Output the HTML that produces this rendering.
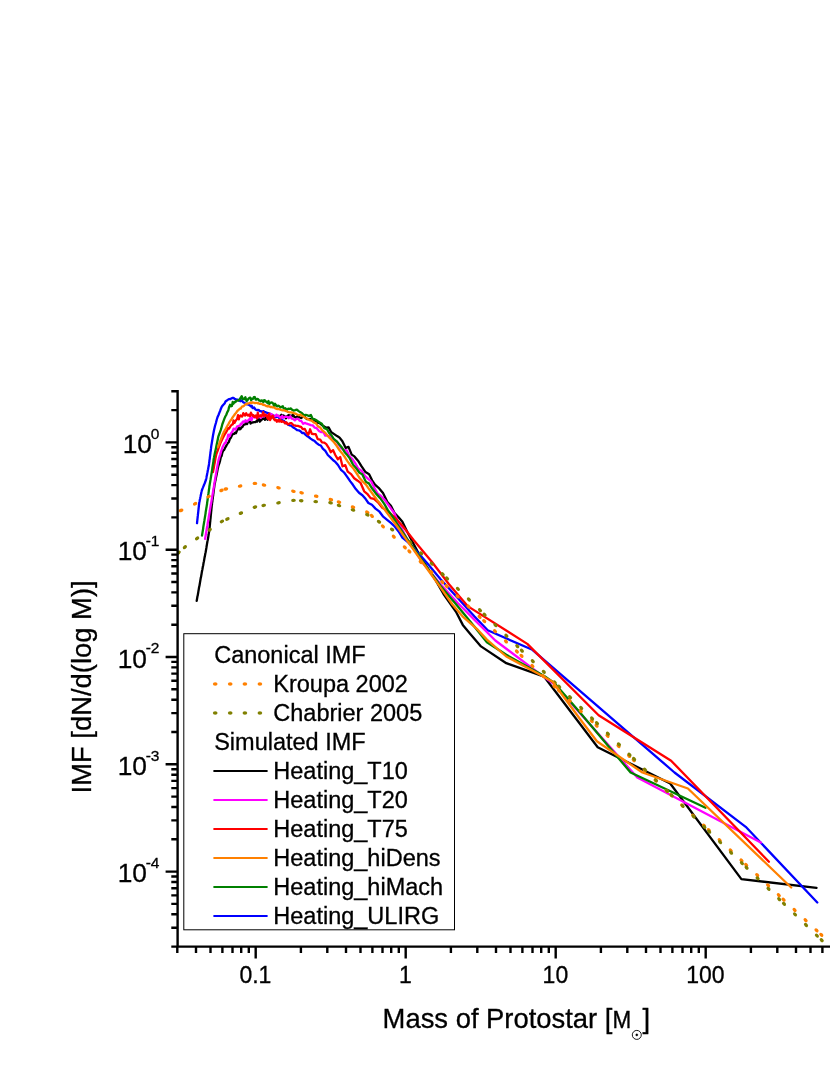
<!DOCTYPE html><html><head><meta charset="utf-8"><style>html,body{margin:0;padding:0;background:#fff}svg{display:block;will-change:transform}</style></head><body><svg width="830" height="1075" viewBox="0 0 830 1075">
<rect width="830" height="1075" fill="#fff"/>
<clipPath id="c"><rect x="177.6" y="380" width="660" height="566.6"/></clipPath>
<g clip-path="url(#c)">
<path d="M196.7 600.9 L196.8 600.3 L196.9 599.7 L197.0 599.1 L197.1 598.5 L197.2 597.9 L197.3 597.3 L197.4 596.7 L197.5 596.1 L197.7 595.6 L197.8 595.0 L197.9 594.4 L198.0 593.8 L198.1 593.2 L198.2 592.6 L198.3 592.0 L198.4 591.4 L198.5 590.8 L198.6 590.2 L198.7 589.6 L198.8 589.0 L198.9 588.4 L199.0 587.8 L199.1 587.2 L199.2 586.6 L199.4 586.1 L199.5 585.5 L199.6 584.9 L199.7 584.3 L199.8 583.7 L199.9 583.1 L200.0 582.5 L200.1 581.9 L200.2 581.3 L200.3 580.7 L200.4 580.1 L200.5 579.5 L200.6 578.9 L200.7 578.3 L200.8 577.7 L201.0 577.1 L201.1 576.6 L201.2 576.0 L201.3 575.4 L201.4 574.8 L201.5 574.2 L201.6 573.6 L201.7 573.0 L201.8 572.4 L201.9 571.8 L202.0 571.2 L202.1 570.6 L202.3 570.0 L202.4 569.4 L202.5 568.8 L202.6 568.2 L202.7 567.6 L202.8 567.0 L202.9 566.4 L203.1 565.8 L203.2 565.2 L203.3 564.6 L203.4 564.0 L203.5 563.4 L203.6 562.8 L203.7 562.2 L203.9 561.5 L204.0 560.9 L204.1 560.3 L204.2 559.7 L204.3 559.1 L204.4 558.5 L204.5 557.9 L204.6 557.3 L204.8 556.7 L204.9 556.1 L205.0 555.5 L205.1 554.9 L205.2 554.3 L205.3 553.7 L205.4 553.1 L205.6 552.5 L205.7 551.9 L205.8 551.3 L205.9 550.7 L206.0 550.1 L206.1 549.5 L206.2 548.9 L206.3 548.3 L206.4 547.7 L206.5 547.0 L206.6 546.4 L206.7 545.8 L206.8 545.2 L206.9 544.6 L207.0 544.0 L207.1 543.4 L207.2 542.8 L207.3 542.2 L207.4 541.6 L207.5 541.0 L207.7 540.3 L207.8 539.7 L207.9 539.1 L208.0 538.5 L208.1 537.9 L208.2 537.3 L208.3 536.7 L208.4 536.1 L208.5 535.5 L208.6 534.9 L208.7 534.3 L208.8 533.6 L208.9 533.0 L209.0 532.4 L209.1 531.8 L209.2 531.2 L209.3 530.6 L209.3 530.0 L209.4 529.4 L209.5 528.8 L209.5 528.2 L209.6 527.6 L209.7 527.0 L209.7 526.4 L209.8 525.8 L209.8 525.2 L209.9 524.6 L210.0 524.0 L210.0 523.4 L210.1 522.8 L210.1 522.2 L210.2 521.6 L210.3 521.0 L210.3 520.4 L210.4 519.8 L210.4 519.2 L210.5 518.6 L210.6 518.0 L210.6 517.4 L210.7 516.8 L210.7 516.2 L210.8 515.6 L210.8 515.0 L210.9 514.4 L211.0 513.8 L211.0 513.2 L211.1 512.6 L211.1 512.0 L211.2 511.4 L211.3 510.8 L211.3 510.2 L211.4 509.6 L211.4 509.0 L211.5 508.4 L211.6 507.8 L211.6 507.2 L211.7 506.6 L211.7 506.0 L211.8 505.4 L211.9 504.8 L212.0 504.2 L212.0 503.6 L212.1 503.0 L212.2 502.4 L212.3 501.8 L212.4 501.2 L212.4 500.6 L212.5 500.0 L212.6 499.4 L212.7 498.8 L212.8 498.2 L212.8 497.6 L212.9 497.0 L213.0 496.4 L213.1 495.8 L213.2 495.2 L213.2 494.6 L213.3 494.0 L213.4 493.4 L213.5 492.8 L213.5 492.2 L213.6 491.6 L213.7 491.0 L213.8 490.4 L213.9 489.8 L213.9 489.2 L214.0 488.6 L214.1 488.0 L214.2 487.4 L214.3 486.8 L214.3 486.2 L214.4 485.6 L214.5 485.0 L214.6 484.4 L214.7 483.8 L214.9 483.2 L215.0 482.6 L215.1 482.0 L215.2 481.4 L215.3 480.8 L215.5 480.2 L215.6 479.6 L215.7 479.0 L215.8 478.4 L215.9 477.8 L216.0 477.5 L217.0 472.8 L217.7 468.9 L218.4 466.0 L219.3 463.3 L220.1 460.6 L220.8 457.3 L221.6 455.9 L222.4 452.5 L223.3 450.4 L224.2 449.9 L225.2 447.6 L226.1 446.2 L226.9 444.6 L227.9 443.0 L228.8 442.1 L229.7 439.3 L230.4 438.4 L231.2 436.9 L232.1 435.1 L233.0 434.0 L234.0 433.9 L235.0 432.7 L235.9 433.2 L236.9 430.8 L238.0 429.0 L238.8 427.7 L239.5 429.3 L240.4 429.2 L241.4 427.4 L242.3 427.1 L243.3 425.3 L244.3 424.4 L245.3 424.3 L246.3 422.7 L247.1 424.1 L248.0 421.4 L249.1 420.4 L249.9 421.6 L250.6 423.6 L251.5 422.5 L252.2 422.5 L253.2 422.3 L254.1 422.1 L255.1 422.2 L256.1 421.5 L257.1 421.6 L257.9 418.6 L258.8 418.9 L259.8 421.7 L260.6 420.2 L261.4 420.3 L262.3 418.7 L263.0 418.8 L263.9 418.1 L265.0 419.8 L265.9 417.1 L266.9 418.2 L267.6 419.7 L268.7 416.8 L269.7 416.9 L270.4 418.2 L271.4 417.7 L272.2 417.3 L273.1 416.8 L273.8 417.1 L274.7 417.4 L275.5 417.1 L276.7 415.9 L277.7 415.9 L278.7 415.8 L280.0 416.5 L281.4 414.8 L282.4 416.2 L283.4 415.4 L284.9 416.4 L286.0 418.3 L287.3 415.9 L288.5 415.2 L289.9 415.3 L291.6 416.6 L292.9 414.4 L294.3 416.8 L295.9 417.7 L297.6 416.0 L299.4 417.3 L301.4 418.1 L303.4 415.5 L305.3 417.6 L307.0 419.1 L308.6 419.1 L310.3 419.0 L312.4 420.7 L314.7 420.1 L317.2 422.8 L319.1 422.6 L321.1 424.3 L323.4 426.1 L326.1 427.7 L328.6 427.4 L331.3 432.2 L334.2 434.1 L337.1 436.1 L339.4 437.4 L342.4 441.2 L345.7 447.9 L348.5 446.9 L351.7 454.6 L354.4 456.4 L358.0 460.7 L361.6 466.4 L365.5 472.1 L369.1 474.2 L372.1 480.3 L375.0 484.7 L378.6 487.8 L383.0 493.1 L387.4 502.0 L390.9 505.8 L394.5 513.0 L398.8 517.6 L402.4 521.8 L407.2 531.8 L420.0 556.0 L436.0 581.0 L443.5 594.0 L456.0 611.8 L462.8 624.9 L470.5 634.2 L481.0 646.4 L506.3 663.2 L544.2 676.7 L597.7 747.2 L670.2 783.5 L741.4 879.1 L816.5 887.8" fill="none" stroke="#000" stroke-width="2.3" stroke-linejoin="round" stroke-linecap="round"/>
<path d="M197.0 523.2 L197.1 522.6 L197.1 522.0 L197.2 521.4 L197.3 520.8 L197.3 520.1 L197.4 519.5 L197.5 518.9 L197.5 518.3 L197.6 517.7 L197.7 517.1 L197.7 516.5 L197.8 515.9 L197.9 515.2 L197.9 514.6 L198.0 514.0 L198.1 513.4 L198.1 512.8 L198.2 512.2 L198.3 511.6 L198.3 511.0 L198.4 510.3 L198.5 509.7 L198.5 509.1 L198.6 508.5 L198.7 507.9 L198.7 507.3 L198.8 506.7 L198.9 506.1 L198.9 505.4 L199.0 504.8 L199.1 504.2 L199.2 503.6 L199.2 503.0 L199.3 502.4 L199.5 501.8 L199.6 501.2 L199.7 500.6 L199.8 500.0 L199.9 499.4 L200.1 498.8 L200.2 498.2 L200.3 497.6 L200.4 497.0 L200.6 496.3 L200.7 495.7 L200.8 495.1 L200.9 494.5 L201.1 493.9 L201.2 493.3 L201.3 492.7 L201.4 492.1 L201.6 491.5 L201.7 490.9 L201.9 490.3 L202.1 489.8 L202.3 489.2 L202.5 488.6 L202.7 488.1 L202.9 487.5 L203.2 487.0 L203.4 486.4 L203.6 485.9 L203.9 485.3 L204.1 484.7 L204.3 484.2 L204.5 483.6 L204.8 483.1 L205.0 482.5 L205.2 482.0 L205.4 481.4 L205.6 480.8 L205.8 480.3 L206.0 479.7 L206.1 479.1 L206.3 478.5 L206.4 477.9 L206.5 477.2 L206.6 476.6 L206.7 476.0 L206.9 475.4 L207.0 474.8 L207.1 474.2 L207.2 473.6 L207.3 473.0 L207.5 472.3 L207.6 471.7 L207.7 471.1 L207.8 470.5 L207.9 469.9 L208.1 469.3 L208.2 468.7 L208.3 468.1 L208.4 467.4 L208.5 466.8 L208.7 466.2 L208.8 465.6 L208.9 465.0 L209.0 464.4 L209.0 463.8 L209.1 463.2 L209.2 462.5 L209.3 461.9 L209.4 461.3 L209.4 460.7 L209.5 460.1 L209.6 459.5 L209.7 458.9 L209.8 458.3 L209.8 457.6 L209.9 457.0 L210.0 456.4 L210.1 455.8 L210.1 455.2 L210.2 454.6 L210.3 454.0 L210.4 453.4 L210.4 452.7 L210.5 452.1 L210.6 451.5 L210.7 450.9 L210.8 450.3 L210.8 449.7 L210.9 449.1 L211.0 448.5 L211.1 447.8 L211.1 447.2 L211.2 446.6 L211.3 446.0 L211.4 445.4 L211.5 444.8 L211.6 444.2 L211.7 443.6 L211.8 443.0 L211.9 442.4 L212.0 441.8 L213.0 435.5 L214.0 430.2 L215.0 426.0 L215.9 423.0 L216.8 419.5 L217.7 416.7 L218.5 415.0 L219.3 412.9 L220.2 410.7 L221.0 408.5 L221.9 406.5 L222.7 405.5 L223.6 404.5 L224.6 403.4 L225.5 401.5 L226.5 400.8 L227.4 400.1 L228.3 399.6 L229.3 399.0 L230.2 399.2 L231.2 398.6 L232.3 398.0 L233.1 397.9 L234.1 398.4 L234.9 399.1 L235.7 399.2 L236.5 399.6 L237.5 399.6 L238.5 400.1 L239.5 400.6 L240.2 401.2 L241.0 400.2 L242.1 401.0 L243.2 402.2 L244.2 402.7 L245.1 403.3 L245.9 403.5 L246.9 404.3 L247.7 403.9 L248.4 404.6 L249.2 404.9 L250.0 405.4 L251.0 406.6 L251.8 405.8 L252.6 408.0 L253.4 408.0 L254.2 407.5 L255.2 409.2 L256.0 409.7 L256.9 410.2 L257.9 409.9 L258.9 410.1 L259.8 411.2 L260.7 411.1 L261.7 411.7 L262.5 411.6 L263.5 411.1 L264.4 411.9 L265.5 412.1 L266.4 412.7 L267.2 412.9 L267.9 413.2 L268.7 413.2 L269.7 414.2 L270.5 413.9 L271.4 414.5 L272.1 414.8 L273.2 415.4 L274.2 415.9 L275.4 416.7 L276.3 416.8 L277.3 416.6 L278.6 417.3 L279.8 418.8 L281.1 418.8 L282.4 420.9 L283.7 420.6 L284.8 421.9 L285.9 423.1 L287.0 423.4 L288.2 424.7 L289.8 425.3 L291.3 425.7 L292.6 427.0 L294.1 427.9 L295.5 428.9 L297.3 430.2 L298.8 430.3 L300.8 431.5 L302.1 433.0 L303.8 432.9 L305.3 434.6 L307.2 436.2 L308.7 437.0 L310.6 438.6 L312.4 439.9 L314.2 440.7 L316.4 442.8 L318.7 444.7 L320.8 445.5 L322.8 448.7 L325.3 450.9 L327.8 455.0 L330.6 457.6 L333.2 460.3 L335.4 461.9 L338.0 465.0 L341.0 469.8 L344.1 472.5 L347.2 476.8 L350.3 481.4 L352.9 484.8 L355.8 489.1 L359.0 492.7 L362.4 495.2 L365.7 499.1 L368.4 503.0 L371.9 504.8 L375.5 508.6 L379.5 511.7 L382.9 516.3 L387.1 519.8 L390.6 522.6 L394.7 526.5 L398.6 531.5 L402.4 537.6 L408.2 542.4 L417.8 552.5 L427.5 563.6 L440.6 579.2 L457.5 597.7 L474.3 616.3 L487.7 630.3 L532.4 649.8 L674.5 772.5 L745.7 826.8 L817.3 902.5" fill="none" stroke="#00f" stroke-width="2.3" stroke-linejoin="round" stroke-linecap="round"/>
<path d="M205.1 538.9 L205.2 538.3 L205.3 537.7 L205.4 537.1 L205.5 536.5 L205.6 535.9 L205.7 535.3 L205.8 534.7 L205.9 534.1 L206.0 533.5 L206.1 532.9 L206.2 532.3 L206.3 531.7 L206.4 531.1 L206.5 530.5 L206.6 529.9 L206.7 529.3 L206.8 528.7 L206.9 528.1 L207.0 527.5 L207.1 526.9 L207.2 526.3 L207.3 525.8 L207.4 525.2 L207.5 524.6 L207.6 524.0 L207.7 523.4 L207.8 522.8 L207.9 522.2 L208.0 521.6 L208.1 521.0 L208.2 520.4 L208.3 519.8 L208.4 519.2 L208.5 518.6 L208.6 518.0 L208.7 517.4 L208.8 516.8 L208.9 516.2 L209.0 515.6 L209.1 515.0 L209.2 514.4 L209.3 513.8 L209.4 513.2 L209.5 512.6 L209.6 512.0 L209.7 511.4 L209.8 510.8 L209.9 510.1 L210.0 509.5 L210.1 508.9 L210.2 508.3 L210.3 507.7 L210.4 507.1 L210.5 506.5 L210.6 505.9 L210.7 505.3 L210.8 504.7 L210.9 504.1 L211.1 503.4 L211.2 502.8 L211.3 502.2 L211.4 501.6 L211.5 501.0 L211.6 500.4 L211.7 499.8 L211.8 499.2 L211.9 498.6 L212.0 498.0 L212.1 497.4 L212.2 496.7 L212.3 496.1 L212.4 495.5 L212.5 494.9 L212.6 494.3 L212.7 493.7 L212.8 493.1 L212.9 492.5 L213.0 491.9 L213.1 491.3 L213.2 490.7 L213.3 490.1 L213.4 489.5 L213.5 488.9 L213.6 488.3 L213.7 487.7 L213.8 487.1 L213.9 486.5 L214.0 485.8 L214.1 485.2 L214.2 484.6 L214.3 484.0 L214.4 483.4 L214.5 482.8 L214.6 482.2 L214.7 481.6 L214.8 481.0 L214.9 480.4 L215.0 479.8 L215.1 479.2 L215.2 478.6 L215.3 478.0 L215.4 477.4 L215.5 476.8 L215.6 476.2 L215.7 475.6 L215.8 475.0 L215.9 474.4 L216.0 474.1 L216.9 468.8 L217.7 464.4 L218.5 460.1 L219.5 456.6 L220.2 454.6 L221.1 451.4 L222.1 448.5 L223.0 446.3 L223.9 444.5 L224.9 442.7 L225.7 442.9 L226.5 439.7 L227.3 439.3 L228.2 434.7 L229.0 436.0 L229.8 436.2 L230.8 433.4 L231.8 432.3 L232.6 431.2 L233.6 428.7 L234.6 428.9 L235.5 429.7 L236.2 428.2 L237.1 426.4 L237.9 426.3 L238.8 425.8 L239.8 425.9 L240.8 423.6 L241.6 424.4 L242.6 421.8 L243.5 421.4 L244.5 422.1 L245.5 420.3 L246.3 421.3 L247.0 421.6 L247.8 420.9 L248.9 419.5 L249.8 419.9 L250.6 417.3 L251.6 420.2 L252.6 416.9 L253.7 416.5 L254.6 417.6 L255.6 417.2 L256.5 417.3 L257.3 415.8 L258.1 417.4 L258.9 416.6 L259.8 416.2 L260.9 417.9 L261.7 415.8 L262.6 415.5 L263.5 416.3 L264.2 416.4 L265.3 415.2 L266.3 415.7 L267.4 415.1 L268.2 415.7 L269.0 415.3 L269.8 415.8 L270.6 413.7 L271.6 414.7 L272.5 414.7 L273.4 416.3 L274.3 416.5 L275.5 416.2 L276.4 414.6 L277.7 416.0 L278.6 416.0 L279.7 416.9 L280.8 418.0 L282.2 415.9 L283.2 417.9 L284.6 416.9 L285.9 416.7 L287.2 416.9 L288.7 418.2 L290.4 416.2 L291.7 418.6 L293.2 419.0 L294.8 420.4 L296.4 418.9 L298.2 418.8 L299.5 420.6 L301.4 421.2 L303.2 423.8 L304.8 422.9 L306.7 423.7 L308.7 424.3 L310.7 425.1 L312.7 425.4 L314.8 427.7 L316.5 428.0 L319.0 430.9 L321.3 432.2 L323.3 432.0 L325.3 435.7 L327.5 435.6 L329.4 436.1 L331.8 439.4 L334.1 440.1 L336.4 441.2 L338.5 444.4 L341.4 448.2 L343.8 449.9 L346.7 450.4 L349.2 455.8 L352.6 459.3 L355.3 463.3 L358.2 468.5 L362.0 471.3 L364.9 475.8 L368.2 478.9 L371.2 481.5 L374.6 488.2 L377.7 493.8 L380.7 495.8 L385.1 500.4 L389.6 506.7 L394.4 513.3 L398.2 522.1 L401.0 527.0 L406.9 538.7 L423.7 564.0 L440.6 584.2 L457.5 602.8 L474.3 619.6 L484.5 629.7 L495.3 640.5 L542.5 675.9 L554.3 684.3 L637.3 777.6 L760.8 842.6" fill="none" stroke="#f0f" stroke-width="2.3" stroke-linejoin="round" stroke-linecap="round"/>
<path d="M213.0 472.0 L213.1 471.4 L213.2 470.8 L213.3 470.2 L213.4 469.6 L213.6 469.0 L213.7 468.4 L213.8 467.8 L213.9 467.1 L214.0 466.5 L214.1 465.9 L214.2 465.3 L214.3 464.7 L214.4 464.1 L214.6 463.5 L214.7 462.9 L214.8 462.3 L214.9 461.7 L215.0 461.1 L215.1 460.5 L215.2 459.9 L215.3 459.3 L215.4 458.6 L215.5 458.0 L215.7 457.4 L215.8 456.8 L215.9 456.2 L216.0 455.6 L216.2 455.0 L216.3 454.4 L216.5 453.8 L216.7 453.3 L216.9 452.7 L217.1 452.1 L217.4 451.5 L217.6 450.9 L217.8 450.4 L218.0 449.8 L218.2 449.2 L218.4 448.6 L218.6 448.0 L218.8 447.4 L219.0 446.9 L219.2 446.3 L219.5 445.7 L219.7 445.1 L219.9 444.5 L220.1 444.0 L220.3 443.4 L220.5 442.8 L220.8 442.3 L221.0 441.7 L221.3 441.2 L221.6 440.7 L221.8 440.1 L222.0 439.8 L222.7 438.3 L223.6 436.5 L224.4 435.0 L225.2 433.5 L226.1 432.3 L227.2 430.2 L228.0 428.2 L229.0 428.6 L229.8 427.3 L230.7 425.8 L231.8 424.7 L232.8 424.4 L233.5 420.5 L234.5 422.9 L235.3 421.3 L236.3 419.9 L237.1 418.9 L238.0 415.2 L238.8 419.4 L239.6 416.3 L240.6 415.5 L241.3 416.4 L242.3 416.5 L243.3 413.2 L244.1 414.2 L245.1 415.5 L246.2 413.3 L247.1 415.1 L248.0 415.6 L249.0 414.6 L250.0 416.1 L250.9 412.7 L251.7 414.1 L252.7 415.7 L253.5 415.3 L254.3 416.9 L255.0 416.6 L255.9 415.4 L257.0 418.4 L257.8 412.6 L258.5 416.7 L259.5 416.1 L260.4 415.2 L261.3 416.3 L262.3 414.8 L263.2 412.2 L264.0 415.8 L264.9 414.5 L265.8 415.7 L266.6 415.1 L267.4 418.0 L268.3 419.1 L269.2 413.6 L270.1 420.0 L270.9 418.4 L272.0 416.2 L272.8 415.8 L273.9 419.2 L275.1 420.4 L275.9 419.8 L276.9 421.7 L278.1 420.0 L279.2 421.6 L280.2 419.7 L281.5 421.9 L282.7 421.3 L284.0 422.1 L285.1 423.4 L286.3 422.2 L287.7 424.3 L288.9 423.9 L290.4 423.1 L291.6 423.2 L293.3 425.1 L294.8 425.5 L296.3 425.8 L297.9 425.9 L299.3 426.5 L301.1 426.8 L302.7 429.1 L304.8 428.9 L306.5 432.3 L308.3 434.9 L310.1 429.3 L311.8 433.8 L313.4 434.0 L315.7 434.1 L317.7 439.2 L320.2 439.6 L322.0 442.4 L324.3 442.6 L326.3 444.1 L328.7 447.8 L330.8 452.2 L333.1 450.1 L335.3 455.0 L337.9 459.3 L340.2 457.0 L342.5 466.3 L345.3 465.1 L347.7 471.6 L351.1 474.1 L354.2 478.2 L357.7 480.7 L360.5 482.8 L364.2 491.3 L367.2 493.8 L370.6 498.1 L374.0 498.8 L378.0 502.3 L382.3 507.7 L386.5 510.3 L389.7 512.9 L393.9 516.5 L398.1 521.0 L402.2 525.5 L403.4 527.0 L414.0 540.5 L432.2 562.3 L449.0 584.2 L467.6 606.1 L527.3 643.9 L598.6 715.2 L671.1 760.7 L768.9 861.7" fill="none" stroke="#f00" stroke-width="2.3" stroke-linejoin="round" stroke-linecap="round"/>
<path d="M202.0 535.5 L202.1 534.9 L202.2 534.3 L202.3 533.7 L202.4 533.1 L202.5 532.5 L202.6 531.9 L202.7 531.3 L202.8 530.7 L202.9 530.1 L203.0 529.5 L203.1 528.9 L203.2 528.3 L203.2 527.7 L203.3 527.1 L203.4 526.5 L203.5 525.9 L203.6 525.3 L203.7 524.7 L203.8 524.1 L203.9 523.5 L204.0 522.9 L204.1 522.3 L204.2 521.7 L204.3 521.1 L204.4 520.5 L204.5 519.8 L204.6 519.2 L204.7 518.6 L204.8 518.0 L204.9 517.4 L205.0 516.8 L205.1 516.2 L205.2 515.6 L205.3 515.0 L205.4 514.4 L205.5 513.8 L205.6 513.2 L205.6 512.6 L205.7 512.0 L205.8 511.4 L205.9 510.8 L206.0 510.2 L206.1 509.6 L206.2 509.0 L206.3 508.4 L206.4 507.8 L206.5 507.2 L206.6 506.6 L206.7 506.0 L206.8 505.4 L206.9 504.8 L207.0 504.2 L207.1 503.6 L207.1 503.0 L207.2 502.3 L207.3 501.7 L207.4 501.1 L207.5 500.5 L207.6 499.9 L207.6 499.3 L207.7 498.7 L207.8 498.1 L207.9 497.4 L208.0 496.8 L208.1 496.2 L208.2 495.6 L208.2 495.0 L208.3 494.4 L208.4 493.8 L208.5 493.2 L208.6 492.5 L208.7 491.9 L208.8 491.3 L208.8 490.7 L208.9 490.1 L209.0 489.5 L209.1 488.9 L209.2 488.3 L209.3 487.6 L209.3 487.0 L209.4 486.4 L209.5 485.8 L209.6 485.2 L209.7 484.6 L209.8 484.0 L209.9 483.4 L210.0 482.8 L210.1 482.2 L210.2 481.6 L210.3 481.0 L210.4 480.4 L210.5 479.8 L210.6 479.2 L210.7 478.5 L210.8 477.9 L210.9 477.3 L211.0 476.7 L211.1 476.1 L211.2 475.5 L211.3 474.9 L211.4 474.3 L211.5 473.7 L211.6 473.1 L211.7 472.5 L211.8 471.9 L211.9 471.3 L212.0 470.7 L212.1 470.1 L212.2 469.5 L212.3 468.9 L212.3 468.2 L212.4 467.6 L212.5 467.0 L212.6 466.4 L212.7 465.8 L212.8 465.2 L212.9 464.6 L213.0 464.0 L213.1 463.4 L213.2 462.8 L213.3 462.2 L213.4 461.6 L213.5 461.0 L213.5 460.3 L213.6 459.7 L213.7 459.1 L213.8 458.5 L213.9 457.9 L214.0 457.5 L214.9 453.1 L215.8 449.0 L216.7 444.5 L217.5 440.7 L218.3 436.7 L219.1 434.5 L219.9 432.3 L220.8 429.9 L221.7 426.7 L222.4 424.0 L223.4 421.3 L224.4 418.6 L225.3 416.5 L226.2 415.0 L227.2 412.3 L228.3 410.4 L229.0 407.2 L230.1 404.7 L231.2 406.3 L231.9 406.0 L232.7 402.0 L233.5 403.7 L234.6 402.0 L235.4 402.2 L236.3 400.6 L237.4 400.6 L238.3 400.6 L239.1 399.9 L239.9 399.0 L240.9 397.5 L241.7 396.2 L242.7 399.2 L243.7 399.0 L244.5 399.1 L245.4 397.2 L246.5 401.0 L247.4 400.5 L248.3 398.8 L249.4 397.9 L250.3 397.6 L251.2 400.3 L251.9 399.0 L253.0 398.8 L253.8 397.2 L254.7 397.0 L255.7 399.5 L256.4 399.6 L257.2 398.9 L258.1 399.1 L259.1 400.5 L260.1 400.7 L260.8 401.2 L261.6 400.4 L262.4 400.8 L263.3 402.2 L264.1 400.2 L264.9 400.4 L266.0 401.6 L266.7 402.3 L267.7 403.3 L268.5 401.0 L269.3 404.0 L270.3 402.9 L271.1 402.4 L272.2 402.6 L273.3 403.8 L274.1 406.3 L275.1 403.8 L275.9 405.1 L277.1 406.4 L278.4 405.6 L279.3 406.2 L280.5 407.5 L281.7 406.8 L282.8 406.3 L284.0 409.2 L285.4 408.3 L286.8 410.0 L288.3 408.7 L289.6 409.0 L290.9 408.4 L292.1 409.8 L293.5 410.5 L295.2 410.2 L296.9 409.6 L298.3 410.9 L300.1 412.1 L301.8 413.0 L303.9 415.3 L305.5 414.8 L307.1 415.2 L308.8 416.0 L310.9 415.0 L312.7 419.0 L314.5 419.2 L316.9 420.6 L319.2 422.2 L321.8 423.8 L324.3 428.1 L326.9 429.1 L329.4 433.3 L331.6 435.5 L333.7 438.8 L336.7 441.3 L338.9 443.9 L342.1 447.7 L344.4 451.7 L346.7 454.4 L349.8 458.4 L353.1 464.8 L356.0 468.0 L359.5 472.8 L362.2 474.2 L366.0 482.0 L368.9 483.4 L372.0 488.3 L376.0 493.6 L380.2 498.2 L384.1 503.6 L387.7 509.8 L392.1 516.2 L395.7 521.5 L399.1 526.9 L401.3 530.0 L406.9 538.7 L423.7 563.0 L440.6 585.9 L457.5 606.1 L474.3 626.4 L486.9 642.2 L506.3 654.8 L544.2 675.9 L554.3 683.0 L580.0 712.6 L630.6 772.5 L705.5 807.8" fill="none" stroke="#008000" stroke-width="2.3" stroke-linejoin="round" stroke-linecap="round"/>
<g fill="#ff8000"><ellipse cx="181.1" cy="510.4" rx="2.35" ry="1.7" transform="rotate(-26 181.1 510.4)"/><ellipse cx="195.1" cy="503.7" rx="2.35" ry="1.7" transform="rotate(-27 195.1 503.7)"/><ellipse cx="208.6" cy="496.6" rx="2.35" ry="1.7" transform="rotate(-27 208.6 496.6)"/><ellipse cx="221.5" cy="490.4" rx="2.35" ry="1.7" transform="rotate(-24 221.5 490.4)"/><ellipse cx="225.8" cy="489.0" rx="2.35" ry="1.7" transform="rotate(-13 225.8 489.0)"/><ellipse cx="240.1" cy="486.1" rx="2.35" ry="1.7" transform="rotate(-11 240.1 486.1)"/><ellipse cx="254.9" cy="483.4" rx="2.35" ry="1.7" transform="rotate(-2 254.9 483.4)"/><ellipse cx="264.0" cy="485.1" rx="2.35" ry="1.7" transform="rotate(11 264.0 485.1)"/><ellipse cx="278.5" cy="487.8" rx="2.35" ry="1.7" transform="rotate(12 278.5 487.8)"/><ellipse cx="293.4" cy="491.3" rx="2.35" ry="1.7" transform="rotate(12 293.4 491.3)"/><ellipse cx="301.6" cy="492.8" rx="2.35" ry="1.7" transform="rotate(12 301.6 492.8)"/><ellipse cx="316.2" cy="496.2" rx="2.35" ry="1.7" transform="rotate(13 316.2 496.2)"/><ellipse cx="330.9" cy="499.6" rx="2.35" ry="1.7" transform="rotate(15 330.9 499.6)"/><ellipse cx="339.0" cy="502.1" rx="2.35" ry="1.7" transform="rotate(19 339.0 502.1)"/><ellipse cx="353.0" cy="507.2" rx="2.35" ry="1.7" transform="rotate(20 353.0 507.2)"/><ellipse cx="367.3" cy="512.2" rx="2.35" ry="1.7" transform="rotate(25 367.3 512.2)"/><ellipse cx="371.9" cy="515.9" rx="2.35" ry="1.7" transform="rotate(42 371.9 515.9)"/><ellipse cx="382.9" cy="526.4" rx="2.35" ry="1.7" transform="rotate(44 382.9 526.4)"/><ellipse cx="393.8" cy="536.7" rx="2.35" ry="1.7" transform="rotate(44 393.8 536.7)"/><ellipse cx="404.8" cy="547.3" rx="2.35" ry="1.7" transform="rotate(43 404.8 547.3)"/><ellipse cx="409.4" cy="551.4" rx="2.35" ry="1.7" transform="rotate(43 409.4 551.4)"/><ellipse cx="420.7" cy="562.0" rx="2.35" ry="1.7" transform="rotate(43 420.7 562.0)"/><ellipse cx="431.3" cy="571.9" rx="2.35" ry="1.7" transform="rotate(43 431.3 571.9)"/><ellipse cx="442.3" cy="582.1" rx="2.35" ry="1.7" transform="rotate(43 442.3 582.1)"/><ellipse cx="446.7" cy="586.2" rx="2.35" ry="1.7" transform="rotate(43 446.7 586.2)"/><ellipse cx="457.5" cy="596.3" rx="2.35" ry="1.7" transform="rotate(43 457.5 596.3)"/><ellipse cx="468.5" cy="606.5" rx="2.35" ry="1.7" transform="rotate(43 468.5 606.5)"/><ellipse cx="479.6" cy="616.8" rx="2.35" ry="1.7" transform="rotate(43 479.6 616.8)"/><ellipse cx="484.2" cy="621.1" rx="2.35" ry="1.7" transform="rotate(43 484.2 621.1)"/><ellipse cx="495.0" cy="631.2" rx="2.35" ry="1.7" transform="rotate(43 495.0 631.2)"/><ellipse cx="506.0" cy="641.4" rx="2.35" ry="1.7" transform="rotate(43 506.0 641.4)"/><ellipse cx="516.9" cy="651.5" rx="2.35" ry="1.7" transform="rotate(43 516.9 651.5)"/><ellipse cx="521.5" cy="655.8" rx="2.35" ry="1.7" transform="rotate(43 521.5 655.8)"/><ellipse cx="532.4" cy="666.0" rx="2.35" ry="1.7" transform="rotate(43 532.4 666.0)"/><ellipse cx="543.4" cy="676.2" rx="2.35" ry="1.7" transform="rotate(43 543.4 676.2)"/><ellipse cx="554.4" cy="686.4" rx="2.35" ry="1.7" transform="rotate(43 554.4 686.4)"/><ellipse cx="558.8" cy="690.5" rx="2.35" ry="1.7" transform="rotate(43 558.8 690.5)"/><ellipse cx="569.7" cy="700.7" rx="2.35" ry="1.7" transform="rotate(43 569.7 700.7)"/><ellipse cx="580.8" cy="711.0" rx="2.35" ry="1.7" transform="rotate(43 580.8 711.0)"/><ellipse cx="591.7" cy="721.1" rx="2.35" ry="1.7" transform="rotate(43 591.7 721.1)"/><ellipse cx="596.6" cy="725.7" rx="2.35" ry="1.7" transform="rotate(43 596.6 725.7)"/><ellipse cx="607.5" cy="735.8" rx="2.35" ry="1.7" transform="rotate(43 607.5 735.8)"/><ellipse cx="618.5" cy="746.1" rx="2.35" ry="1.7" transform="rotate(43 618.5 746.1)"/><ellipse cx="629.1" cy="755.9" rx="2.35" ry="1.7" transform="rotate(43 629.1 755.9)"/><ellipse cx="633.7" cy="760.2" rx="2.35" ry="1.7" transform="rotate(43 633.7 760.2)"/><ellipse cx="644.6" cy="770.4" rx="2.35" ry="1.7" transform="rotate(43 644.6 770.4)"/><ellipse cx="655.6" cy="780.6" rx="2.35" ry="1.7" transform="rotate(43 655.6 780.6)"/><ellipse cx="666.6" cy="790.8" rx="2.35" ry="1.7" transform="rotate(43 666.6 790.8)"/><ellipse cx="671.3" cy="795.2" rx="2.35" ry="1.7" transform="rotate(43 671.3 795.2)"/><ellipse cx="682.2" cy="805.4" rx="2.35" ry="1.7" transform="rotate(43 682.2 805.4)"/><ellipse cx="693.2" cy="815.6" rx="2.35" ry="1.7" transform="rotate(43 693.2 815.6)"/><ellipse cx="704.0" cy="825.6" rx="2.35" ry="1.7" transform="rotate(43 704.0 825.6)"/><ellipse cx="708.8" cy="830.1" rx="2.35" ry="1.7" transform="rotate(43 708.8 830.1)"/><ellipse cx="719.7" cy="840.2" rx="2.35" ry="1.7" transform="rotate(43 719.7 840.2)"/><ellipse cx="730.7" cy="850.5" rx="2.35" ry="1.7" transform="rotate(43 730.7 850.5)"/><ellipse cx="741.5" cy="860.5" rx="2.35" ry="1.7" transform="rotate(43 741.5 860.5)"/><ellipse cx="746.2" cy="864.9" rx="2.35" ry="1.7" transform="rotate(43 746.2 864.9)"/><ellipse cx="757.2" cy="875.1" rx="2.35" ry="1.7" transform="rotate(43 757.2 875.1)"/><ellipse cx="768.1" cy="885.3" rx="2.35" ry="1.7" transform="rotate(43 768.1 885.3)"/><ellipse cx="778.8" cy="895.2" rx="2.35" ry="1.7" transform="rotate(43 778.8 895.2)"/><ellipse cx="783.6" cy="899.7" rx="2.35" ry="1.7" transform="rotate(43 783.6 899.7)"/><ellipse cx="794.6" cy="909.9" rx="2.35" ry="1.7" transform="rotate(43 794.6 909.9)"/><ellipse cx="805.6" cy="920.2" rx="2.35" ry="1.7" transform="rotate(43 805.6 920.2)"/><ellipse cx="816.5" cy="930.3" rx="2.35" ry="1.7" transform="rotate(43 816.5 930.3)"/><ellipse cx="821.3" cy="934.8" rx="2.35" ry="1.7" transform="rotate(43 821.3 934.8)"/></g>
<g fill="#808000"><ellipse cx="178.6" cy="552.6" rx="2.35" ry="1.7" transform="rotate(-41 178.6 552.6)"/><ellipse cx="184.9" cy="547.2" rx="2.35" ry="1.7" transform="rotate(-38 184.9 547.2)"/><ellipse cx="197.1" cy="538.4" rx="2.35" ry="1.7" transform="rotate(-35 197.1 538.4)"/><ellipse cx="209.7" cy="529.8" rx="2.35" ry="1.7" transform="rotate(-34 209.7 529.8)"/><ellipse cx="221.9" cy="521.4" rx="2.35" ry="1.7" transform="rotate(-31 221.9 521.4)"/><ellipse cx="227.4" cy="519.0" rx="2.35" ry="1.7" transform="rotate(-24 227.4 519.0)"/><ellipse cx="240.9" cy="513.1" rx="2.35" ry="1.7" transform="rotate(-23 240.9 513.1)"/><ellipse cx="254.9" cy="507.1" rx="2.35" ry="1.7" transform="rotate(-19 254.9 507.1)"/><ellipse cx="263.7" cy="505.4" rx="2.35" ry="1.7" transform="rotate(-10 263.7 505.4)"/><ellipse cx="278.5" cy="502.8" rx="2.35" ry="1.7" transform="rotate(-10 278.5 502.8)"/><ellipse cx="293.5" cy="500.4" rx="2.35" ry="1.7" transform="rotate(-5 293.5 500.4)"/><ellipse cx="301.2" cy="500.7" rx="2.35" ry="1.7" transform="rotate(3 301.2 500.7)"/><ellipse cx="315.7" cy="501.6" rx="2.35" ry="1.7" transform="rotate(4 315.7 501.6)"/><ellipse cx="330.6" cy="502.8" rx="2.35" ry="1.7" transform="rotate(10 330.6 502.8)"/><ellipse cx="339.0" cy="505.5" rx="2.35" ry="1.7" transform="rotate(18 339.0 505.5)"/><ellipse cx="353.0" cy="510.0" rx="2.35" ry="1.7" transform="rotate(18 353.0 510.0)"/><ellipse cx="367.3" cy="514.8" rx="2.35" ry="1.7" transform="rotate(24 367.3 514.8)"/><ellipse cx="379.0" cy="521.8" rx="2.35" ry="1.7" transform="rotate(31 379.0 521.8)"/><ellipse cx="392.1" cy="529.5" rx="2.35" ry="1.7" transform="rotate(33 392.1 529.5)"/><ellipse cx="410.2" cy="542.0" rx="2.35" ry="1.7" transform="rotate(39 410.2 542.0)"/><ellipse cx="421.1" cy="553.3" rx="2.35" ry="1.7" transform="rotate(45 421.1 553.3)"/><ellipse cx="431.7" cy="563.6" rx="2.35" ry="1.7" transform="rotate(44 431.7 563.6)"/><ellipse cx="442.7" cy="574.2" rx="2.35" ry="1.7" transform="rotate(44 442.7 574.2)"/><ellipse cx="447.1" cy="578.4" rx="2.35" ry="1.7" transform="rotate(44 447.1 578.4)"/><ellipse cx="457.9" cy="588.9" rx="2.35" ry="1.7" transform="rotate(44 457.9 588.9)"/><ellipse cx="468.9" cy="599.5" rx="2.35" ry="1.7" transform="rotate(44 468.9 599.5)"/><ellipse cx="480.0" cy="610.2" rx="2.35" ry="1.7" transform="rotate(44 480.0 610.2)"/><ellipse cx="484.6" cy="614.7" rx="2.35" ry="1.7" transform="rotate(44 484.6 614.7)"/><ellipse cx="495.4" cy="625.1" rx="2.35" ry="1.7" transform="rotate(44 495.4 625.1)"/><ellipse cx="506.4" cy="635.7" rx="2.35" ry="1.7" transform="rotate(44 506.4 635.7)"/><ellipse cx="517.3" cy="646.2" rx="2.35" ry="1.7" transform="rotate(44 517.3 646.2)"/><ellipse cx="521.9" cy="650.7" rx="2.35" ry="1.7" transform="rotate(44 521.9 650.7)"/><ellipse cx="532.8" cy="661.2" rx="2.35" ry="1.7" transform="rotate(44 532.8 661.2)"/><ellipse cx="543.8" cy="671.8" rx="2.35" ry="1.7" transform="rotate(44 543.8 671.8)"/><ellipse cx="554.8" cy="682.4" rx="2.35" ry="1.7" transform="rotate(44 554.8 682.4)"/><ellipse cx="559.2" cy="686.7" rx="2.35" ry="1.7" transform="rotate(44 559.2 686.7)"/><ellipse cx="570.1" cy="697.2" rx="2.35" ry="1.7" transform="rotate(44 570.1 697.2)"/><ellipse cx="581.2" cy="707.9" rx="2.35" ry="1.7" transform="rotate(44 581.2 707.9)"/><ellipse cx="592.1" cy="718.5" rx="2.35" ry="1.7" transform="rotate(44 592.1 718.5)"/><ellipse cx="597.0" cy="723.2" rx="2.35" ry="1.7" transform="rotate(44 597.0 723.2)"/><ellipse cx="607.9" cy="733.7" rx="2.35" ry="1.7" transform="rotate(44 607.9 733.7)"/><ellipse cx="618.9" cy="744.3" rx="2.35" ry="1.7" transform="rotate(44 618.9 744.3)"/><ellipse cx="629.5" cy="754.6" rx="2.35" ry="1.7" transform="rotate(44 629.5 754.6)"/><ellipse cx="634.1" cy="759.0" rx="2.35" ry="1.7" transform="rotate(44 634.1 759.0)"/><ellipse cx="645.0" cy="769.6" rx="2.35" ry="1.7" transform="rotate(44 645.0 769.6)"/><ellipse cx="656.0" cy="780.2" rx="2.35" ry="1.7" transform="rotate(44 656.0 780.2)"/><ellipse cx="667.0" cy="790.8" rx="2.35" ry="1.7" transform="rotate(44 667.0 790.8)"/><ellipse cx="671.7" cy="795.3" rx="2.35" ry="1.7" transform="rotate(44 671.7 795.3)"/><ellipse cx="682.6" cy="805.9" rx="2.35" ry="1.7" transform="rotate(44 682.6 805.9)"/><ellipse cx="693.6" cy="816.5" rx="2.35" ry="1.7" transform="rotate(44 693.6 816.5)"/><ellipse cx="704.4" cy="826.9" rx="2.35" ry="1.7" transform="rotate(44 704.4 826.9)"/><ellipse cx="709.2" cy="831.6" rx="2.35" ry="1.7" transform="rotate(44 709.2 831.6)"/><ellipse cx="720.1" cy="842.1" rx="2.35" ry="1.7" transform="rotate(44 720.1 842.1)"/><ellipse cx="731.1" cy="852.7" rx="2.35" ry="1.7" transform="rotate(44 731.1 852.7)"/><ellipse cx="741.9" cy="863.1" rx="2.35" ry="1.7" transform="rotate(44 741.9 863.1)"/><ellipse cx="746.6" cy="867.7" rx="2.35" ry="1.7" transform="rotate(44 746.6 867.7)"/><ellipse cx="757.6" cy="878.3" rx="2.35" ry="1.7" transform="rotate(44 757.6 878.3)"/><ellipse cx="768.5" cy="888.8" rx="2.35" ry="1.7" transform="rotate(44 768.5 888.8)"/><ellipse cx="779.2" cy="899.2" rx="2.35" ry="1.7" transform="rotate(44 779.2 899.2)"/><ellipse cx="784.0" cy="903.8" rx="2.35" ry="1.7" transform="rotate(44 784.0 903.8)"/><ellipse cx="795.0" cy="914.4" rx="2.35" ry="1.7" transform="rotate(44 795.0 914.4)"/><ellipse cx="806.0" cy="925.0" rx="2.35" ry="1.7" transform="rotate(44 806.0 925.0)"/><ellipse cx="816.9" cy="935.6" rx="2.35" ry="1.7" transform="rotate(44 816.9 935.6)"/><ellipse cx="821.7" cy="940.2" rx="2.35" ry="1.7" transform="rotate(44 821.7 940.2)"/></g>
<path d="M218.0 447.0 L218.2 446.3 L218.5 445.7 L218.7 445.0 L219.0 444.4 L219.2 443.8 L219.4 443.2 L219.7 442.6 L219.9 442.0 L220.1 441.4 L220.3 440.8 L220.5 440.2 L220.8 439.7 L221.0 439.1 L221.2 438.5 L221.4 437.9 L221.6 437.3 L221.9 436.8 L222.1 436.2 L222.3 435.6 L222.5 435.0 L222.7 434.4 L223.0 433.9 L223.2 433.3 L223.5 432.7 L223.7 432.2 L224.0 431.6 L224.3 431.1 L224.6 430.6 L224.9 430.0 L225.0 429.9 L225.9 428.5 L226.7 427.0 L227.7 425.2 L228.7 423.6 L229.5 422.1 L230.5 420.5 L231.4 419.4 L232.2 418.0 L233.3 416.4 L234.0 415.5 L235.0 414.0 L236.1 412.9 L237.0 411.4 L238.0 410.4 L238.9 409.7 L239.9 408.6 L240.7 408.6 L241.5 407.2 L242.3 406.4 L243.2 406.4 L244.2 405.6 L245.2 404.5 L246.0 404.0 L246.9 403.9 L247.9 403.4 L248.7 403.3 L249.7 403.2 L250.6 402.4 L251.4 403.1 L252.3 402.3 L253.3 402.7 L254.3 402.8 L255.0 403.2 L256.1 402.9 L256.8 402.8 L257.7 403.4 L258.5 403.2 L259.4 403.9 L260.2 403.8 L261.0 404.0 L261.8 403.8 L262.5 404.5 L263.4 405.0 L264.2 404.8 L265.3 405.4 L266.3 406.1 L267.0 406.1 L267.9 406.5 L268.9 406.2 L269.7 406.6 L270.5 407.1 L271.3 406.9 L272.2 407.3 L273.3 407.4 L274.3 407.5 L275.3 408.4 L276.3 408.8 L277.5 409.1 L278.6 409.0 L279.8 409.4 L281.1 410.0 L282.5 410.4 L283.9 410.2 L285.2 410.8 L286.4 411.1 L287.8 411.9 L289.3 412.3 L290.9 412.3 L292.3 412.7 L293.7 413.1 L295.4 413.6 L297.2 414.5 L299.0 415.3 L300.6 414.5 L302.0 415.8 L303.7 416.7 L305.8 418.1 L307.7 419.0 L309.6 420.1 L311.7 420.7 L313.9 422.5 L316.0 423.4 L317.9 426.2 L320.2 427.5 L322.1 430.1 L324.7 432.3 L326.9 434.7 L329.2 437.4 L331.5 439.7 L334.2 442.5 L336.5 445.7 L339.4 450.0 L341.8 452.9 L345.0 457.3 L347.4 461.1 L350.6 465.5 L353.6 468.8 L356.8 473.7 L359.8 478.3 L363.2 482.0 L366.5 485.3 L369.6 489.8 L373.6 495.2 L377.0 499.9 L380.5 504.1 L383.9 508.6 L387.0 512.9 L391.3 518.6 L395.1 523.8 L397.9 527.5 L406.9 540.4 L423.7 564.0 L440.6 587.6 L452.4 604.5 L462.5 616.3 L477.7 629.7 L486.9 639.6 L506.3 656.5 L542.5 675.9 L552.6 681.8 L580.0 719.0 L596.9 741.3 L642.4 772.5 L687.9 788.5 L791.2 887.5" fill="none" stroke="#ff8000" stroke-width="2.3" stroke-linejoin="round" stroke-linecap="round"/>
</g>
<g stroke="#000" stroke-width="2.4" fill="none">
<path d="M177.6 390 V946.6 H830"/>
<path d="M177.6 946.6 H171.3 M177.6 927.7 H171.3 M177.6 914.3 H171.3 M177.6 903.9 H171.3 M177.6 895.4 H171.3 M177.6 888.2 H171.3 M177.6 882.0 H171.3 M177.6 876.5 H171.3 M177.6 871.6 H165.6 M177.6 839.3 H171.3 M177.6 820.4 H171.3 M177.6 807.0 H171.3 M177.6 796.6 H171.3 M177.6 788.1 H171.3 M177.6 780.9 H171.3 M177.6 774.7 H171.3 M177.6 769.2 H171.3 M177.6 764.3 H165.6 M177.6 732.0 H171.3 M177.6 713.1 H171.3 M177.6 699.7 H171.3 M177.6 689.3 H171.3 M177.6 680.8 H171.3 M177.6 673.6 H171.3 M177.6 667.4 H171.3 M177.6 661.9 H171.3 M177.6 657.0 H165.6 M177.6 624.7 H171.3 M177.6 605.8 H171.3 M177.6 592.4 H171.3 M177.6 582.0 H171.3 M177.6 573.5 H171.3 M177.6 566.3 H171.3 M177.6 560.1 H171.3 M177.6 554.6 H171.3 M177.6 549.7 H165.6 M177.6 517.4 H171.3 M177.6 498.5 H171.3 M177.6 485.1 H171.3 M177.6 474.7 H171.3 M177.6 466.2 H171.3 M177.6 459.0 H171.3 M177.6 452.8 H171.3 M177.6 447.3 H171.3 M177.6 442.4 H165.6 M177.6 410.1 H171.3 M177.6 391.2 H171.3"/>
<path d="M177.3 946.6 V952.9 M196.0 946.6 V952.9 M210.5 946.6 V952.9 M222.4 946.6 V952.9 M232.5 946.6 V952.9 M241.2 946.6 V952.9 M248.8 946.6 V952.9 M255.7 946.6 V958.6 M300.9 946.6 V952.9 M327.3 946.6 V952.9 M346.0 946.6 V952.9 M360.5 946.6 V952.9 M372.4 946.6 V952.9 M382.5 946.6 V952.9 M391.2 946.6 V952.9 M398.8 946.6 V952.9 M405.7 946.6 V958.6 M450.9 946.6 V952.9 M477.3 946.6 V952.9 M496.0 946.6 V952.9 M510.5 946.6 V952.9 M522.4 946.6 V952.9 M532.5 946.6 V952.9 M541.2 946.6 V952.9 M548.8 946.6 V952.9 M555.7 946.6 V958.6 M600.9 946.6 V952.9 M627.3 946.6 V952.9 M646.0 946.6 V952.9 M660.5 946.6 V952.9 M672.4 946.6 V952.9 M682.5 946.6 V952.9 M691.2 946.6 V952.9 M698.8 946.6 V952.9 M705.7 946.6 V958.6 M750.9 946.6 V952.9 M777.3 946.6 V952.9 M796.0 946.6 V952.9 M810.5 946.6 V952.9 M822.4 946.6 V952.9"/>
</g>
<g font-family="Liberation Sans, sans-serif" fill="#000" stroke="#000" stroke-width="0.3">
<text x="255.4" y="983" font-size="23" text-anchor="middle">0.1</text>
<text x="405.4" y="983" font-size="23" text-anchor="middle">1</text>
<text x="555.4" y="983" font-size="23" text-anchor="middle">10</text>
<text x="705.4" y="983" font-size="23" text-anchor="middle">100</text>
<text x="152.0" y="452.9" font-size="26.3" text-anchor="end">10</text>
<text x="150.7" y="438.7" font-size="15.5">0</text>
<text x="147.0" y="560.2" font-size="26.3" text-anchor="end">10</text>
<text x="145.7" y="546.0" font-size="15.5">-1</text>
<text x="147.0" y="667.5" font-size="26.3" text-anchor="end">10</text>
<text x="145.7" y="653.3" font-size="15.5">-2</text>
<text x="147.0" y="774.8" font-size="26.3" text-anchor="end">10</text>
<text x="145.7" y="760.6" font-size="15.5">-3</text>
<text x="147.0" y="882.1" font-size="26.3" text-anchor="end">10</text>
<text x="145.7" y="867.9" font-size="15.5">-4</text>
<text transform="translate(91.3,793.4) rotate(-90)" font-size="27.4">IMF [dN/d(log M)]</text>
<text x="382.6" y="1027.7" font-size="27.4">Mass of Protostar [</text>
<text transform="translate(612.4,1027.7) scale(1,1.07)" font-size="22.5">M</text>
<text x="642.5" y="1027.7" font-size="27.4">]</text>
<circle cx="636.8" cy="1034.9" r="4.5" fill="none" stroke="#000" stroke-width="0.9"/><circle cx="636.8" cy="1034.9" r="1.1"/>
</g>
<rect x="183.8" y="633.7" width="270.7" height="296.1" fill="#fff" stroke="#000" stroke-width="1"/>
<g font-family="Liberation Sans, sans-serif" font-size="23.5" fill="#000" stroke="#000" stroke-width="0.3">
<text x="214.2" y="662.7">Canonical IMF</text>
<text x="273.3" y="691.7">Kroupa 2002</text>
<ellipse cx="215.2" cy="684.0" rx="2.35" ry="1.7" fill="#ff8000" stroke="none"/>
<ellipse cx="230.2" cy="684.0" rx="2.35" ry="1.7" fill="#ff8000" stroke="none"/>
<ellipse cx="244.9" cy="684.0" rx="2.35" ry="1.7" fill="#ff8000" stroke="none"/>
<ellipse cx="259.9" cy="684.0" rx="2.35" ry="1.7" fill="#ff8000" stroke="none"/>
<text x="273.3" y="720.7">Chabrier 2005</text>
<ellipse cx="215.2" cy="713.0" rx="2.35" ry="1.7" fill="#808000" stroke="none"/>
<ellipse cx="230.2" cy="713.0" rx="2.35" ry="1.7" fill="#808000" stroke="none"/>
<ellipse cx="244.9" cy="713.0" rx="2.35" ry="1.7" fill="#808000" stroke="none"/>
<ellipse cx="259.9" cy="713.0" rx="2.35" ry="1.7" fill="#808000" stroke="none"/>
<text x="214.2" y="749.7">Simulated IMF</text>
<text x="273.3" y="778.7">Heating_T10</text>
<path d="M213.4 771.0 H267.6" stroke="#000" stroke-width="2.2"/>
<text x="273.3" y="807.7">Heating_T20</text>
<path d="M213.4 800.0 H267.6" stroke="#f0f" stroke-width="2.2"/>
<text x="273.3" y="836.7">Heating_T75</text>
<path d="M213.4 829.0 H267.6" stroke="#f00" stroke-width="2.2"/>
<text x="273.3" y="865.7">Heating_hiDens</text>
<path d="M213.4 858.0 H267.6" stroke="#ff8000" stroke-width="2.2"/>
<text x="273.3" y="894.7">Heating_hiMach</text>
<path d="M213.4 887.0 H267.6" stroke="#008000" stroke-width="2.2"/>
<text x="273.3" y="923.7">Heating_ULIRG</text>
<path d="M213.4 916.0 H267.6" stroke="#00f" stroke-width="2.2"/>
</g>
</svg></body></html>
